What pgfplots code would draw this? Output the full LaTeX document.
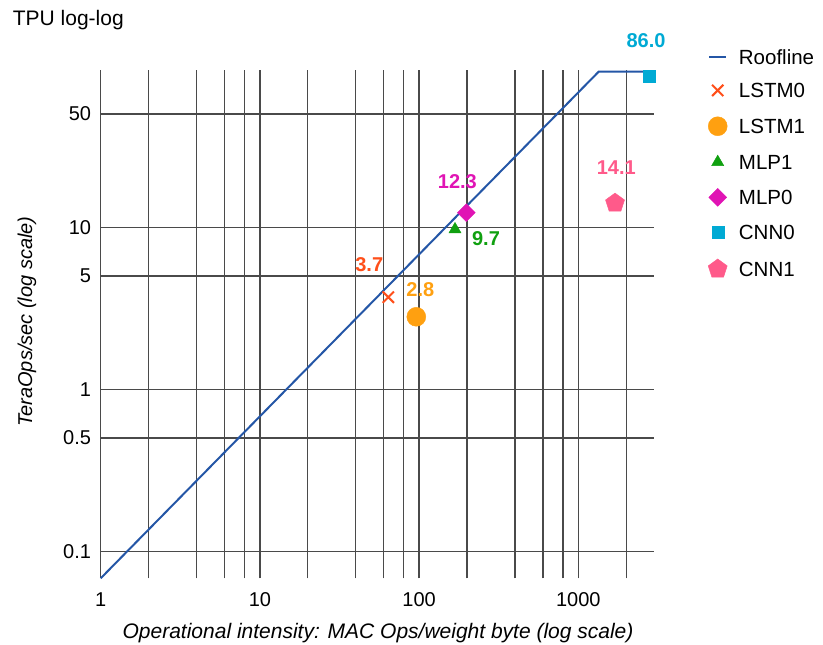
\documentclass[border=0pt]{standalone}
\usepackage{fontspec}
\setmainfont{Liberation Sans}
\usepackage{pgfplots}
\pgfplotsset{compat=1.18}
\definecolor{roof}{HTML}{2456A6}
\definecolor{lstmA}{HTML}{FF4F1A}
\definecolor{lstmB}{HTML}{FFA010}
\definecolor{mlpB}{HTML}{10A010}
\definecolor{mlpA}{HTML}{E014B4}
\definecolor{cnnA}{HTML}{00AAD4}
\definecolor{cnnB}{HTML}{FF5A8A}
\definecolor{gridc}{HTML}{4A4A4A}
\begin{document}
\begin{tikzpicture}
\useasboundingbox (-100.7bp,-66.7bp) rectangle (722.3bp,578.3bp);
\node[anchor=west, inner sep=0pt, font=\fontsize{21bp}{25bp}\selectfont] at (-88bp,558.3bp) {TPU log-log};
\begin{axis}[
 at={(0,0)}, anchor=south west,
 scale only axis, width=553.6bp, height=508.3bp,
 xmode=log, ymode=log,
 xmin=1, xmax=3000, ymin=0.068, ymax=93.5,
 clip=false,
 axis line style={draw=none},
 xtick={1,2,4,6,8,10,20,40,60,80,100,200,400,600,800,1000,2000},
 xticklabels={1,,,,,10,,,,,100,,,,,1000,},
 ytick={0.1,0.5,1,5,10,50},
 yticklabels={0.1,0.5,1,5,10,50},
 minor tick num=0,
 xmajorgrids=true, ymajorgrids=true,
 major grid style={draw=gridc, line width=1.3bp},
 major tick length=0pt, minor tick length=0pt,
 tick style={draw=none},
 ticklabel style={font=\fontsize{20bp}{24bp}\selectfont},
 xticklabel style={anchor=center, yshift=-21.7bp, inner sep=0pt},
 yticklabel style={anchor=east, xshift=-9.5bp, inner sep=0pt},
 xlabel={\itshape Operational intensity: MAC Ops/weight byte (log scale)},
 xlabel style={at={(axis description cs:0.501,-0.1076)}, anchor=center, font=\fontsize{21bp}{25bp}\selectfont},
 ylabel={\itshape TeraOps/sec (log scale)},
 ylabel style={at={(axis description cs:-0.1331,0.5048)}, anchor=center, font=\fontsize{20bp}{24bp}\selectfont},
 legend cell align=left,
 legend style={draw=none, fill=none, at={(1,1)}, anchor=north west, xshift=53.9bp, yshift=20.65bp,
   inner sep=0pt, outer sep=0pt, row sep=19bp,
   font=\fontsize{20.5bp}{24bp}\selectfont,
   nodes={inner sep=0pt, text height=14.7bp, text depth=0pt},
   /tikz/every odd column/.append style={column sep=11.7bp}},
 nodes near coords,
 point meta=explicit symbolic,
]
\addplot[roof, line width=2bp, no marks] coordinates {(1,0.0680) (1345,91.5) (3000,91.5)};
\addlegendentry{Roofline}
\addplot[only marks, mark=x, mark size=8bp, draw=lstmA, mark options={line width=2bp},
  every node near coord/.append style={anchor=center, inner sep=0pt, xshift=-19bp, yshift=33bp, text=lstmA, font=\bfseries\fontsize{20bp}{24bp}\selectfont}]
  coordinates {(64,3.7) [3.7]};
\addlegendentry{LSTM0}
\addplot[only marks, mark=*, mark size=9.5bp, draw=lstmB, fill=lstmB,
  every node near coord/.append style={anchor=center, inner sep=0pt, xshift=4bp, yshift=27bp, text=lstmB, font=\bfseries\fontsize{20bp}{24bp}\selectfont}]
  coordinates {(96,2.8) [2.8]};
\addlegendentry{LSTM1}
\addplot[only marks, mark=triangle*, mark size=7bp, draw=mlpB, fill=mlpB,
  every node near coord/.append style={anchor=center, inner sep=0pt, xshift=31bp, yshift=-9bp, text=mlpB, font=\bfseries\fontsize{20bp}{24bp}\selectfont}]
  coordinates {(168,9.7) [9.7]};
\addlegendentry{MLP1}
\addplot[only marks, mark=square*, mark size=6.3bp, draw=mlpA, fill=mlpA, mark options={rotate=45},
  every node near coord/.append style={anchor=center, inner sep=0pt, xshift=-9bp, yshift=31bp, text=mlpA, font=\bfseries\fontsize{20bp}{24bp}\selectfont}]
  coordinates {(198,12.3) [12.3]};
\addlegendentry{MLP0}
\addplot[only marks, mark=square*, mark size=6bp, draw=cnnA, fill=cnnA,
  every node near coord/.append style={anchor=center, inner sep=0pt, xshift=-2.7bp, yshift=35.2bp, text=cnnA, font=\bfseries\fontsize{20bp}{24bp}\selectfont}]
  coordinates {(2770,86.0) [86.0]};
\addlegendentry{CNN0}
\addplot[only marks, mark=pentagon*, mark size=10bp, draw=cnnB, fill=cnnB,
  every node near coord/.append style={anchor=center, inner sep=0pt, xshift=1.3bp, yshift=35.4bp, text=cnnB, font=\bfseries\fontsize{20bp}{24bp}\selectfont}]
  coordinates {(1700,14.1) [14.1]};
\addlegendentry{CNN1}
\end{axis}
\end{tikzpicture}
\end{document}
